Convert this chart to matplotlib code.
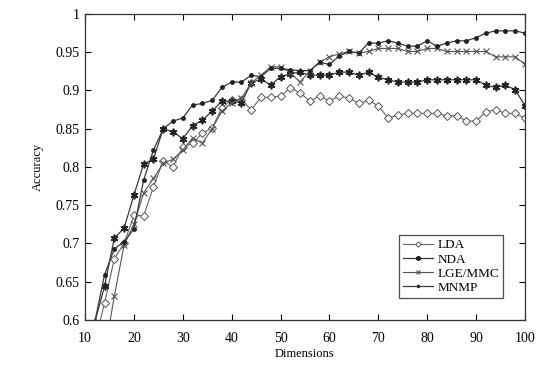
import numpy as np
import matplotlib.pyplot as plt

plt.rcParams['font.family'] = ['Liberation Serif', 'DejaVu Serif']

dims = list(range(12, 101, 2))

lda = [0.57, 0.622, 0.680, 0.700, 0.737, 0.736, 0.774, 0.808, 0.800, 0.826,
       0.831, 0.844, 0.851, 0.877, 0.888, 0.888, 0.875, 0.891, 0.891, 0.893,
       0.903, 0.897, 0.886, 0.893, 0.886, 0.893, 0.890, 0.883, 0.887, 0.880,
       0.864, 0.868, 0.870, 0.870, 0.870, 0.870, 0.867, 0.867, 0.860, 0.860,
       0.872, 0.875, 0.870, 0.870, 0.864]
nda = [0.597, 0.644, 0.707, 0.720, 0.763, 0.804, 0.810, 0.850, 0.846, 0.837,
       0.854, 0.861, 0.873, 0.886, 0.886, 0.884, 0.910, 0.915, 0.907, 0.918,
       0.922, 0.924, 0.920, 0.920, 0.920, 0.924, 0.924, 0.920, 0.924, 0.917,
       0.914, 0.911, 0.911, 0.911, 0.914, 0.914, 0.914, 0.914, 0.914, 0.914,
       0.907, 0.904, 0.907, 0.901, 0.880]
lge = [0.52, 0.556, 0.631, 0.698, 0.725, 0.766, 0.785, 0.805, 0.810, 0.822,
       0.838, 0.831, 0.850, 0.873, 0.884, 0.890, 0.910, 0.920, 0.931, 0.931,
       0.923, 0.911, 0.926, 0.937, 0.944, 0.948, 0.951, 0.949, 0.951, 0.955,
       0.955, 0.955, 0.951, 0.951, 0.955, 0.955, 0.951, 0.951, 0.951, 0.951,
       0.951, 0.944, 0.944, 0.944, 0.934]
mnmp = [0.597, 0.659, 0.693, 0.702, 0.719, 0.783, 0.822, 0.850, 0.860, 0.864,
        0.881, 0.883, 0.887, 0.904, 0.911, 0.911, 0.920, 0.918, 0.929, 0.929,
        0.927, 0.926, 0.926, 0.937, 0.934, 0.945, 0.951, 0.949, 0.962, 0.962,
        0.965, 0.962, 0.958, 0.958, 0.965, 0.958, 0.962, 0.965, 0.965, 0.969,
        0.975, 0.978, 0.978, 0.978, 0.975]

fig = plt.figure(figsize=(5.5, 3.69), dpi=100)
ax = fig.add_axes([0.1545, 0.133, 0.80, 0.829])

lc = '#3a3a3a'
ax.plot(dims, lda, color='#666666', lw=0.8, marker='D', ms=4.5, mfc='white',
        mec='#555555', mew=0.7, label='LDA')
ax.plot(dims, nda, color=lc, lw=0.9, marker=(6, 2, 0), ms=5.5, mec='#222222',
        mew=1.2, label='NDA')
ax.plot(dims, lge, color='#555555', lw=0.8, marker='x', ms=4, mec='#555555',
        mew=0.8, label='LGE/MMC')
ax.plot(dims, mnmp, color=lc, lw=0.9, marker='o', ms=2.5, mfc='#222222',
        mec='#222222', label='MNMP')

ax.set_xlim(10, 100)
ax.set_ylim(0.6, 1.0)
ax.set_xticks(range(10, 101, 10))
ax.set_yticks([0.6, 0.65, 0.7, 0.75, 0.8, 0.85, 0.9, 0.95, 1.0])
ax.set_yticklabels(['0.6', '0.65', '0.7', '0.75', '0.8', '0.85', '0.9', '0.95', '1'])
ax.tick_params(direction='in', top=True, right=True, length=4, width=0.8,
               labelsize=10, pad=4)
ax.tick_params(axis='x', pad=9)
for s in ax.spines.values():
    s.set_linewidth(0.9)
    s.set_color('#333333')

ax.set_xlabel('Dimensions', fontsize=9, labelpad=2)
ax.set_ylabel('Accuracy', fontsize=9, labelpad=8)

leg = ax.legend(loc='lower left', bbox_to_anchor=(0.714, 0.072), fontsize=9.5,
                handlelength=2.3, frameon=True, fancybox=False, edgecolor='#222222',
                borderpad=0.3, labelspacing=0.15, handletextpad=0.3, markerscale=0.6,
                borderaxespad=0)
leg.get_frame().set_linewidth(0.9)

fig.savefig('out.png', dpi=100)
